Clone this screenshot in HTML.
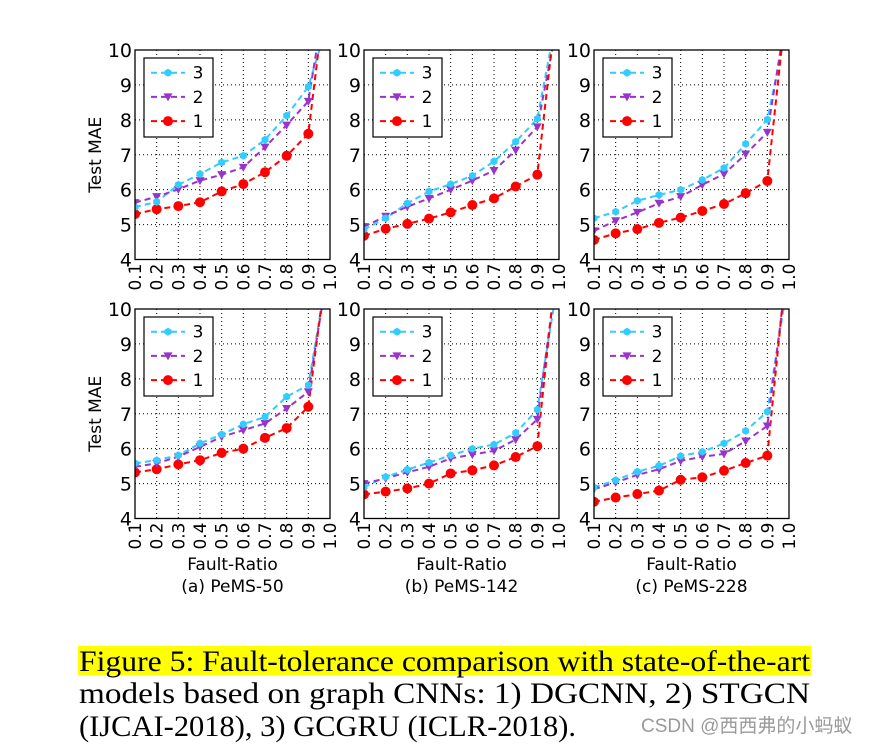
<!DOCTYPE html>
<html><head><meta charset="utf-8">
<style>
body{margin:0;background:#fff;}
svg{display:block;}
</style></head>
<body>
<svg id="fig" width="871" height="750" viewBox="0 0 871 750" xmlns="http://www.w3.org/2000/svg">
  <defs id="defs"></defs>
  <g id="charts"></g>
  <g font-family="Liberation Serif, serif" font-size="30" fill="#000">
    <rect x="78" y="646" width="733" height="29" fill="#ffff00"/>
    <text x="79" y="671" textLength="731" lengthAdjust="spacingAndGlyphs">Figure 5: Fault-tolerance comparison with state-of-the-art</text>
    <text x="79" y="703" textLength="731" lengthAdjust="spacingAndGlyphs">models based on graph CNNs: 1) DGCNN, 2) STGCN</text>
    <text x="79" y="736" textLength="497" lengthAdjust="spacingAndGlyphs">(IJCAI-2018), 3) GCGRU (ICLR-2018).</text>
  </g>
  <text x="641" y="732" font-family="Liberation Sans, Noto Sans CJK SC, sans-serif" font-size="19" fill="#9a9a9a">CSDN @西西弗的小蚂蚁</text>
</svg>
<script>
const ratios = [0.1,0.2,0.3,0.4,0.5,0.6,0.7,0.8,0.9,1.0];
const yTicks = [4,5,6,7,8,9,10];
const xTickLabels = ["0.1","0.2","0.3","0.4","0.5","0.6","0.7","0.8","0.9","1.0"];
const panelTitles = ["(a) PeMS-50","(b) PeMS-142","(c) PeMS-228"];
const seriesNames = ["3","2","1"];
// top row (a,b,c)
const a1_s3 = [5.5,5.65,6.14,6.45,6.78,6.97,7.43,8.12,8.95,11.0];
const a1_s2 = [5.63,5.8,6.01,6.26,6.43,6.64,7.22,7.85,8.53,12.4];
const a1_s1 = [5.3,5.44,5.53,5.64,5.95,6.16,6.5,6.97,7.6,12.7];
const b1_s3 = [4.86,5.18,5.61,5.95,6.16,6.4,6.81,7.37,8.03,11.3];
const b1_s2 = [4.94,5.24,5.51,5.75,6.0,6.26,6.55,7.13,7.8,11.0];
const b1_s1 = [4.68,4.88,5.02,5.17,5.35,5.56,5.75,6.09,6.43,11.9];
const c1_s3 = [5.18,5.37,5.68,5.85,6.0,6.28,6.62,7.31,8.01,11.0];
const c1_s2 = [4.82,5.11,5.35,5.61,5.8,6.14,6.45,7.02,7.64,11.5];
const c1_s1 = [4.56,4.75,4.87,5.05,5.2,5.39,5.59,5.9,6.25,12.0];
// bottom row
const a2_s3 = [5.58,5.67,5.81,6.15,6.41,6.7,6.91,7.49,7.82,11.5];
const a2_s2 = [5.48,5.58,5.77,6.05,6.34,6.53,6.72,7.15,7.63,11.5];
const a2_s1 = [5.32,5.41,5.55,5.67,5.88,6.0,6.31,6.59,7.2,12.0];
const b2_s3 = [4.9,5.19,5.4,5.6,5.81,6.0,6.12,6.45,7.12,11.0];
const b2_s2 = [5.0,5.15,5.32,5.48,5.72,5.83,5.94,6.26,6.84,11.5];
const b2_s1 = [4.69,4.77,4.86,5.0,5.29,5.38,5.52,5.76,6.07,12.0];
const c2_s3 = [4.89,5.1,5.34,5.51,5.79,5.91,6.15,6.51,7.06,11.0];
const c2_s2 = [4.84,5.03,5.25,5.41,5.65,5.77,5.85,6.22,6.65,11.5];
const c2_s1 = [4.48,4.6,4.7,4.8,5.11,5.18,5.37,5.59,5.8,12.0];

const panels = [
  {id:"a-top", x:135, y:50, s:[a1_s3,a1_s2,a1_s1], col:0, row:0},
  {id:"b-top", x:364, y:50, s:[b1_s3,b1_s2,b1_s1], col:1, row:0},
  {id:"c-top", x:594, y:50, s:[c1_s3,c1_s2,c1_s1], col:2, row:0},
  {id:"a-bottom", x:135, y:309, s:[a2_s3,a2_s2,a2_s1], col:0, row:1},
  {id:"b-bottom", x:364, y:309, s:[b2_s3,b2_s2,b2_s1], col:1, row:1},
  {id:"c-bottom", x:594, y:309, s:[c2_s3,c2_s2,c2_s1], col:2, row:1}
];
const W = 195, H = 209.5;
const colors = ["#33ccff","#9933cc","#ff0000"];
const NS = "http://www.w3.org/2000/svg";
const root = document.getElementById("charts");
const defs = document.getElementById("defs");
function mk(tag, attrs, parent){
  const e = document.createElementNS(NS, tag);
  for (const k in attrs) e.setAttribute(k, attrs[k]);
  parent.appendChild(e);
  return e;
}
function marker(g, i, cx, cy){
  let m;
  if (i === 0) {
    let pts = [];
    for (let k=0;k<6;k++){const a=Math.PI/3*k+Math.PI/6;pts.push((cx+4*Math.cos(a)).toFixed(1)+","+(cy+4*Math.sin(a)).toFixed(1));}
    m = mk("polygon",{points:pts.join(" "),fill:colors[0]},g);
  } else if (i === 1) {
    m = mk("polygon",{points:`${cx-4.5},${cy-3.5} ${cx+4.5},${cy-3.5} ${cx},${cy+4.5}`,fill:colors[1]},g);
  } else {
    m = mk("circle",{cx:cx,cy:cy,r:5,fill:colors[2]},g);
  }
  return m;
}
panels.forEach((p, pi) => {
  const g = mk("g",{},root);
  
  
  const xs = v => p.x + (v - 0.1) / 0.9 * W;
  const ys = v => p.y + H - (v - 4) / 6 * H;
  const clip = mk("clipPath",{id:"clip"+pi},defs);
  mk("rect",{x:p.x,y:p.y,width:W,height:H},clip);
  const grid = mk("g",{stroke:"#000","stroke-width":1,"stroke-dasharray":"1,3"},g);
  
  
  ratios.forEach(r => mk("line",{x1:xs(r),x2:xs(r),y1:p.y,y2:p.y+H},grid));
  yTicks.forEach(t => mk("line",{x1:p.x,x2:p.x+W,y1:ys(t),y2:ys(t)},grid));
  yTicks.forEach(t => {
    const tx = mk("text",{x:p.x-3,y:ys(t)+7,"text-anchor":"end","font-family":"DejaVu Sans, sans-serif","font-size":19},g);
    tx.textContent = t;
    
    
  });
  ratios.forEach((r, i) => {
    const tx = mk("text",{transform:`translate(${xs(r)+6},${p.y+H+4}) rotate(-90)`,"text-anchor":"end","font-family":"DejaVu Sans, sans-serif","font-size":17},g);
    tx.textContent = xTickLabels[i];
    
    
  });
  const sg = mk("g",{"clip-path":`url(#clip${pi})`},g);
  p.s.forEach((vals, si) => {
    const d = vals.map((v,i)=>(i?"L":"M")+xs(ratios[i]).toFixed(1)+","+ys(v).toFixed(1)).join(" ");
    const path = mk("path",{d:d,fill:"none",stroke:colors[si],"stroke-width":2,"stroke-dasharray":"6,4"},sg);
    
    
  });
  [2,1,0].forEach(si => {
    p.s[si].forEach((v,i) => {
      if (i === ratios.length-1) return;
      const m = marker(sg, si, xs(ratios[i]), ys(v));
      
      
    });
  });
  const fr = mk("rect",{x:p.x,y:p.y,width:W,height:H,fill:"none",stroke:"#000","stroke-width":1.3},g);
  
  
  const lg = mk("g",{},g);
  
  
  mk("rect",{x:p.x+9,y:p.y+8,width:69,height:79,fill:"#fff",stroke:"#000","stroke-width":1.2},lg);
  seriesNames.forEach((n, si) => {
    const ly = p.y + 22.7 + si*24.2;
    const le = mk("g",{},lg);
    
    
    mk("line",{x1:p.x+16,x2:p.x+50,y1:ly,y2:ly,stroke:colors[si],"stroke-width":2,"stroke-dasharray":"6,4"},le);
    marker(le, si, p.x+33, ly);
    const t = mk("text",{x:p.x+63,y:ly+6,"text-anchor":"middle","font-family":"DejaVu Sans, sans-serif","font-size":17},le);
    t.textContent = n;
  });
  if (p.col === 0) {
    const yt = mk("text",{transform:`translate(${101},${p.y+H/2}) rotate(-90)`,"text-anchor":"middle","font-family":"DejaVu Sans, sans-serif","font-size":17},g);
    yt.textContent = "Test MAE";
    
    
  }
  if (p.row === 1) {
    const xt = mk("text",{x:p.x+W/2,y:570,"text-anchor":"middle","font-family":"DejaVu Sans, sans-serif","font-size":17},g);
    xt.textContent = "Fault-Ratio";
    
    
    const pt = mk("text",{x:p.x+W/2,y:592,"text-anchor":"middle","font-family":"DejaVu Sans, sans-serif","font-size":17},g);
    pt.textContent = panelTitles[p.col];
    
    
  }
});
</script>
</body></html>
